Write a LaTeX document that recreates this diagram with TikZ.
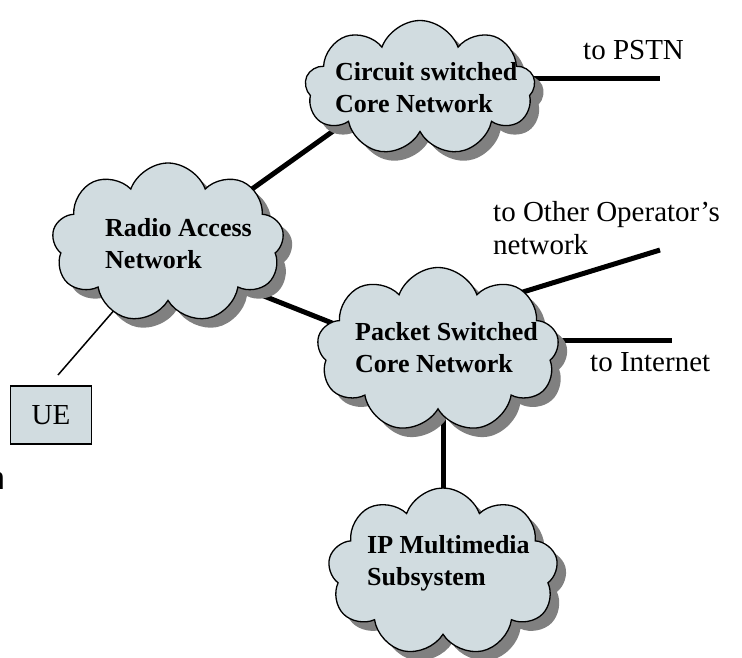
\documentclass[tikz,border=0pt]{standalone}
\usepackage{fontspec}
\setmainfont{Liberation Serif}
\newfontfamily\labelsans{Liberation Sans}
\usetikzlibrary{shapes.symbols,shadows}

\definecolor{cloudfill}{RGB}{209,220,224}
\definecolor{shadowgray}{RGB}{128,128,128}

\pgfdeclarelayer{bg}
\pgfsetlayers{bg,main}

\tikzset{
  netcloud/.style={cloud, cloud puffs=9, cloud puff arc=140, cloud ignores aspect,
    draw=black, line width=1.3pt, fill=cloudfill, inner sep=0pt,
    drop shadow={shadow xshift=9pt, shadow yshift=-9pt, fill=shadowgray, opacity=1}},
  cloudtext/.style={anchor=west, align=left, inner sep=0pt,
    font=\bfseries\fontsize{26}{32}\selectfont},
  plaintext/.style={anchor=west, align=left, inner sep=0pt,
    font=\fontsize{29}{33}\selectfont},
  trunk/.style={line width=5pt},
  radiolink/.style={line width=1.5pt},
  uebox/.style={draw=black, line width=1.5pt, fill=cloudfill, inner sep=0pt,
    minimum width=81pt, minimum height=58pt, font=\fontsize{29}{33}\selectfont}
}

\begin{document}
\begin{tikzpicture}[x=1pt,y=1pt]
\useasboundingbox (0,0) rectangle (742,-657);

% network clouds
\node[netcloud, minimum width=230pt, minimum height=135pt] (cs)  at (420,-88) {};
\node[netcloud, minimum width=232pt, minimum height=160pt] (ran) at (168,-243) {};
\node[netcloud, minimum width=242pt, minimum height=165pt] (ps)  at (438,-350) {};
\node[netcloud, minimum width=230pt, minimum height=168pt] (ims) at (443,-572) {};

% cloud captions
\node[cloudtext] (cst)  at (335,-88)  {Circuit switched\\Core Network};
\node[cloudtext] (rant) at (105,-244) {Radio Access\\Network};
\node[cloudtext] (pst)  at (355,-348) {Packet Switched\\Core Network};
\node[cloudtext] (imst) at (367,-563) {IP Multimedia\\Subsystem};

% user equipment
\node[uebox] (ue) at (51,-415) {UE};

% outside connections
\coordinate (pstn)  at (660,-78);
\coordinate (other) at (660,-250);
\coordinate (inet)  at (672,-340);
\coordinate (ueend) at (58,-375);

\node[plaintext] (pstnl)  at (583,-50)  {to PSTN};
\node[plaintext] (otherl) at (493,-228) {to Other Operator's\\network};
\node[plaintext] (inetl)  at (590,-362) {to Internet};

% stray margin glyph
\node[anchor=west, inner sep=0pt, font=\labelsans\fontsize{32}{36}\selectfont] (mark) at (-13,-481) {n};

% links, kept behind the clouds
\begin{pgfonlayer}{bg}
  \draw[trunk] ([yshift=-6pt]ran.center) -- ([yshift=19pt]cs.center);
  \draw[trunk] ([yshift=-15pt]ran.center) -- ([yshift=-15pt]ps.center);
  \draw[trunk] ([xshift=5pt]ps.center) -- (ims.center);
  \draw[trunk] ([yshift=10pt]cs.center) -- (pstn);
  \draw[trunk] ([yshift=32pt]ps.center) -- (other);
  \draw[trunk] ([yshift=10pt]ps.center) -- (inet);
  \draw[radiolink] ([yshift=-5pt]ran.center) -- (ueend);
\end{pgfonlayer}
\end{tikzpicture}
\end{document}
